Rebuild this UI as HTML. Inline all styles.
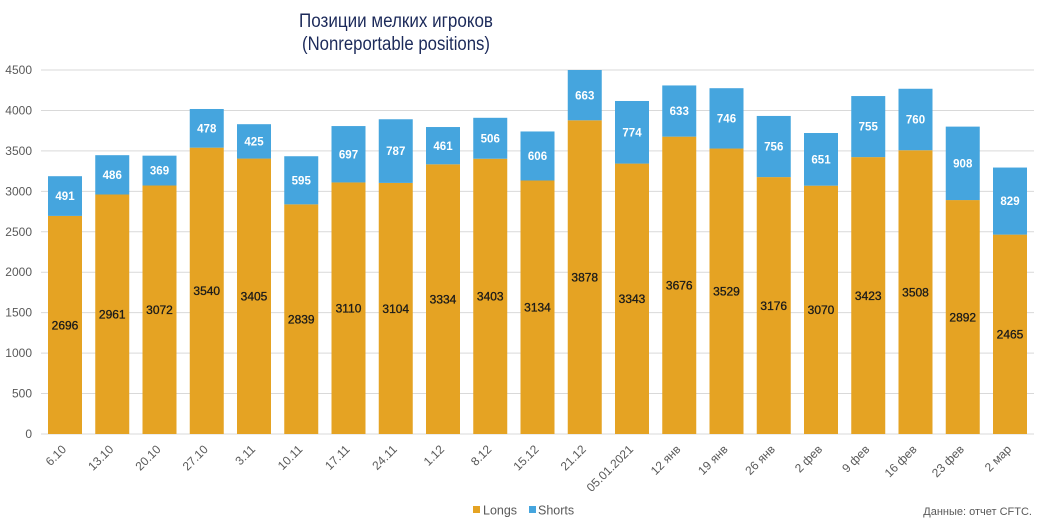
<!DOCTYPE html>
<html>
<head>
<meta charset="utf-8">
<style>
html,body{margin:0;padding:0;background:#fff;}
svg{display:block;}
text{font-family:"Liberation Sans","DejaVu Sans",sans-serif;}
</style>
</head>
<body>
<svg width="1046" height="526" viewBox="0 0 1046 526" xmlns="http://www.w3.org/2000/svg">
<rect width="1046" height="526" fill="#fff"/>
<!-- title -->
<text x="396" y="27" font-size="19" fill="#1c2a5a" text-anchor="middle" textLength="194" lengthAdjust="spacingAndGlyphs">Позиции мелких игроков</text>
<text x="396" y="50" font-size="19" fill="#1c2a5a" text-anchor="middle" textLength="188" lengthAdjust="spacingAndGlyphs">(Nonreportable positions)</text>

<!-- gridlines -->
<g stroke="#d9d9d9" stroke-width="1">
<line x1="41" x2="1034" y1="434" y2="434"/>
<line x1="41" x2="1034" y1="393.56" y2="393.56"/>
<line x1="41" x2="1034" y1="353.11" y2="353.11"/>
<line x1="41" x2="1034" y1="312.67" y2="312.67"/>
<line x1="41" x2="1034" y1="272.22" y2="272.22"/>
<line x1="41" x2="1034" y1="231.78" y2="231.78"/>
<line x1="41" x2="1034" y1="191.33" y2="191.33"/>
<line x1="41" x2="1034" y1="150.89" y2="150.89"/>
<line x1="41" x2="1034" y1="110.44" y2="110.44"/>
<line x1="41" x2="1034" y1="70" y2="70"/>
</g>
<!-- y labels -->
<g font-size="12" fill="#595959" text-anchor="end">
<text x="32" y="438">0</text>
<text x="32" y="397.6">500</text>
<text x="32" y="357.1">1000</text>
<text x="32" y="316.7">1500</text>
<text x="32" y="276.2">2000</text>
<text x="32" y="235.8">2500</text>
<text x="32" y="195.3">3000</text>
<text x="32" y="154.9">3500</text>
<text x="32" y="114.4">4000</text>
<text x="32" y="74">4500</text>
</g>

<!-- bars: orange longs -->
<g fill="#e5a323">
<rect x="48" y="215.92" width="34" height="218.08"/>
<rect x="95.25" y="194.49" width="34" height="239.51"/>
<rect x="142.5" y="185.51" width="34" height="248.49"/>
<rect x="189.75" y="147.65" width="34" height="286.35"/>
<rect x="237" y="158.57" width="34" height="275.43"/>
<rect x="284.25" y="204.36" width="34" height="229.64"/>
<rect x="331.5" y="182.44" width="34" height="251.56"/>
<rect x="378.75" y="182.92" width="34" height="251.08"/>
<rect x="426" y="164.32" width="34" height="269.68"/>
<rect x="473.25" y="158.73" width="34" height="275.27"/>
<rect x="520.5" y="180.49" width="34" height="253.51"/>
<rect x="567.75" y="120.31" width="34" height="313.69"/>
<rect x="615" y="163.59" width="34" height="270.41"/>
<rect x="662.25" y="136.65" width="34" height="297.35"/>
<rect x="709.5" y="148.54" width="34" height="285.46"/>
<rect x="756.75" y="177.10" width="34" height="256.90"/>
<rect x="804" y="185.67" width="34" height="248.33"/>
<rect x="851.25" y="157.12" width="34" height="276.88"/>
<rect x="898.5" y="150.24" width="34" height="283.76"/>
<rect x="945.75" y="200.07" width="34" height="233.93"/>
<rect x="993" y="234.61" width="34" height="199.39"/>
</g>
<!-- bars: blue shorts -->
<g fill="#45a5de">
<rect x="48" y="176.20" width="34" height="39.72"/>
<rect x="95.25" y="155.18" width="34" height="39.31"/>
<rect x="142.5" y="155.66" width="34" height="29.85"/>
<rect x="189.75" y="108.99" width="34" height="38.66"/>
<rect x="237" y="124.19" width="34" height="34.38"/>
<rect x="284.25" y="156.23" width="34" height="48.13"/>
<rect x="331.5" y="126.06" width="34" height="56.38"/>
<rect x="378.75" y="119.26" width="34" height="63.66"/>
<rect x="426" y="127.03" width="34" height="37.29"/>
<rect x="473.25" y="117.80" width="34" height="40.93"/>
<rect x="520.5" y="131.47" width="34" height="49.02"/>
<rect x="567.75" y="70" width="34" height="50.31"/>
<rect x="615" y="100.98" width="34" height="62.61"/>
<rect x="662.25" y="85.45" width="34" height="51.20"/>
<rect x="709.5" y="88.20" width="34" height="60.34"/>
<rect x="756.75" y="115.95" width="34" height="61.15"/>
<rect x="804" y="133.01" width="34" height="52.66"/>
<rect x="851.25" y="96.05" width="34" height="61.07"/>
<rect x="898.5" y="88.76" width="34" height="61.48"/>
<rect x="945.75" y="126.62" width="34" height="73.45"/>
<rect x="993" y="167.55" width="34" height="67.06"/>
</g>

<!-- long labels -->
<g font-size="12" fill="#1a1a1a" stroke="#1a1a1a" stroke-width="0.3" text-anchor="middle">
<text x="65" y="329.3">2696</text>
<text x="112.25" y="318.5">2961</text>
<text x="159.5" y="314.1">3072</text>
<text x="206.75" y="295.1">3540</text>
<text x="254" y="300.6">3405</text>
<text x="301.25" y="323.5">2839</text>
<text x="348.5" y="312.5">3110</text>
<text x="395.75" y="312.8">3104</text>
<text x="443" y="303.5">3334</text>
<text x="490.25" y="300.7">3403</text>
<text x="537.5" y="311.5">3134</text>
<text x="584.75" y="281.5">3878</text>
<text x="632" y="303.1">3343</text>
<text x="679.25" y="289.6">3676</text>
<text x="726.5" y="295.6">3529</text>
<text x="773.75" y="309.9">3176</text>
<text x="821" y="314.1">3070</text>
<text x="868.25" y="299.9">3423</text>
<text x="915.5" y="296.4">3508</text>
<text x="962.75" y="321.3">2892</text>
<text x="1010" y="338.6">2465</text>
</g>
<!-- short labels -->
<g font-size="11.5" font-weight="bold" fill="#ffffff" text-anchor="middle">
<text x="65" y="200.2">491</text>
<text x="112.25" y="178.9">486</text>
<text x="159.5" y="174.7">369</text>
<text x="206.75" y="132.4">478</text>
<text x="254" y="145.5">425</text>
<text x="301.25" y="184.4">595</text>
<text x="348.5" y="158.4">697</text>
<text x="395.75" y="155.2">787</text>
<text x="443" y="149.8">461</text>
<text x="490.25" y="142.4">506</text>
<text x="537.5" y="160.1">606</text>
<text x="584.75" y="99.3">663</text>
<text x="632" y="136.4">774</text>
<text x="679.25" y="115.1">633</text>
<text x="726.5" y="122.5">746</text>
<text x="773.75" y="150.6">756</text>
<text x="821" y="163.4">651</text>
<text x="868.25" y="130.7">755</text>
<text x="915.5" y="123.6">760</text>
<text x="962.75" y="167.4">908</text>
<text x="1010" y="205.2">829</text>
</g>

<!-- x labels -->
<g font-size="12" fill="#595959" text-anchor="end">
<text transform="translate(67,450) rotate(-45)">6.10</text>
<text transform="translate(114.25,450) rotate(-45)">13.10</text>
<text transform="translate(161.5,450) rotate(-45)">20.10</text>
<text transform="translate(208.75,450) rotate(-45)">27.10</text>
<text transform="translate(256,450) rotate(-45)">3.11</text>
<text transform="translate(303.25,450) rotate(-45)">10.11</text>
<text transform="translate(350.5,450) rotate(-45)">17.11</text>
<text transform="translate(397.75,450) rotate(-45)">24.11</text>
<text transform="translate(445,450) rotate(-45)">1.12</text>
<text transform="translate(492.25,450) rotate(-45)">8.12</text>
<text transform="translate(539.5,450) rotate(-45)">15.12</text>
<text transform="translate(586.75,450) rotate(-45)">21.12</text>
<text transform="translate(634,450) rotate(-45)">05.01.2021</text>
<text transform="translate(681.25,450) rotate(-45)">12 янв</text>
<text transform="translate(728.5,450) rotate(-45)">19 янв</text>
<text transform="translate(775.75,450) rotate(-45)">26 янв</text>
<text transform="translate(823,450) rotate(-45)">2 фев</text>
<text transform="translate(870.25,450) rotate(-45)">9 фев</text>
<text transform="translate(917.5,450) rotate(-45)">16 фев</text>
<text transform="translate(964.75,450) rotate(-45)">23 фев</text>
<text transform="translate(1012,450) rotate(-45)">2 мар</text>
</g>

<!-- legend -->
<rect x="473" y="506" width="7" height="7" fill="#e5a323"/>
<text x="483" y="514.5" font-size="12.5" fill="#595959">Longs</text>
<rect x="529" y="506" width="7" height="7" fill="#45a5de"/>
<text x="538" y="514.5" font-size="12.5" fill="#595959">Shorts</text>

<text x="1032" y="515" font-size="11" fill="#595959" text-anchor="end">Данные: отчет CFTC.</text>
</svg>
</body>
</html>
